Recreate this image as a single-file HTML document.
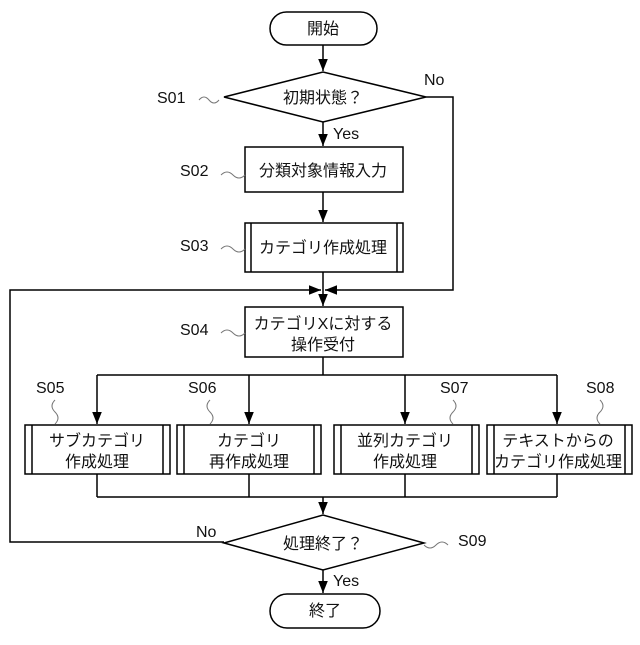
<!DOCTYPE html>
<html><head><meta charset="utf-8"><style>
html,body{margin:0;padding:0;background:#fff;}
svg text{font-family:"Liberation Sans","Noto Sans CJK JP",sans-serif;fill:#111;}
</style></head><body>
<svg width="640" height="640" viewBox="0 0 640 640" xmlns="http://www.w3.org/2000/svg">
<defs><marker id="a" viewBox="0 0 10 10" refX="10" refY="5" markerWidth="8" markerHeight="8" orient="auto"><path d="M0,1 L10,5 L0,9 z" fill="#000"/></marker></defs>
<g stroke="#000" stroke-width="1.5" fill="none">
<rect x="270" y="12" width="107" height="33" rx="16.5" fill="#fff"/>
<line x1="323" y1="45" x2="323" y2="71" marker-end="url(#a)"/>
<polygon points="224,97 323,72 426,97 323,122" fill="#fff"/>
<line x1="323" y1="122" x2="323" y2="146" marker-end="url(#a)"/>
<rect x="245" y="147" width="158" height="45" fill="#fff"/>
<line x1="323" y1="192" x2="323" y2="222" marker-end="url(#a)"/>
<rect x="245" y="223" width="158" height="49" fill="#fff"/>
<line x1="251" y1="223" x2="251" y2="272"/><line x1="397" y1="223" x2="397" y2="272"/>
<polyline points="426,97 453,97 453,290 325,290" marker-end="url(#a)"/>
<polyline points="224,542 10,542 10,290 321,290" marker-end="url(#a)"/>
<line x1="323" y1="272" x2="323" y2="306" marker-end="url(#a)"/>
<rect x="245" y="307" width="158" height="50" fill="#fff"/>
<line x1="323" y1="357" x2="323" y2="375"/>
<line x1="97" y1="375" x2="557" y2="375"/>
<line x1="97" y1="375" x2="97" y2="424" marker-end="url(#a)"/>
<line x1="249" y1="375" x2="249" y2="424" marker-end="url(#a)"/>
<line x1="405" y1="375" x2="405" y2="424" marker-end="url(#a)"/>
<line x1="557" y1="375" x2="557" y2="424" marker-end="url(#a)"/>
<rect x="25" y="425" width="145" height="49" fill="#fff"/><line x1="32" y1="425" x2="32" y2="474"/><line x1="163" y1="425" x2="163" y2="474"/>
<rect x="177" y="425" width="144" height="49" fill="#fff"/><line x1="184" y1="425" x2="184" y2="474"/><line x1="314" y1="425" x2="314" y2="474"/>
<rect x="334" y="425" width="145" height="49" fill="#fff"/><line x1="341" y1="425" x2="341" y2="474"/><line x1="472" y1="425" x2="472" y2="474"/>
<rect x="487" y="425" width="145" height="49" fill="#fff"/><line x1="494" y1="425" x2="494" y2="474"/><line x1="625" y1="425" x2="625" y2="474"/>
<line x1="97" y1="474" x2="97" y2="497"/><line x1="249" y1="474" x2="249" y2="497"/><line x1="405" y1="474" x2="405" y2="497"/><line x1="557" y1="474" x2="557" y2="497"/>
<line x1="97" y1="497" x2="557" y2="497"/>
<line x1="323" y1="497" x2="323" y2="514" marker-end="url(#a)"/>
<polygon points="224,543 323,515 424,543 323,570" fill="#fff"/>
<line x1="323" y1="570" x2="323" y2="593" marker-end="url(#a)"/>
<rect x="270" y="594" width="110" height="34" rx="17" fill="#fff"/>
</g>
<g stroke="#777" stroke-width="1" fill="none">
<path d="M199,100 q5,-6 10,0 t10,0"/>
<path d="M221,175 q6,-6 12,0 t12,0"/>
<path d="M221,249 q6,-6 12,0 t12,0"/>
<path d="M221,333 q6,-6 12,0 t12,0"/>
<path d="M55,400 q-6,6 0,12 t0,12"/>
<path d="M210,400 q-6,6 0,12 t0,12"/>
<path d="M453,400 q6,6 0,12 t0,12"/>
<path d="M600,400 q6,6 0,12 t0,12"/>
<path d="M424,545 q6,6 12,0 t12,0"/>
</g>
<g font-size="16" text-anchor="middle">
<text x="323" y="34">開始</text>
<text x="323" y="103">初期状態？</text>
<text x="323" y="176">分類対象情報入力</text>
<text x="323" y="253">カテゴリ作成処理</text>
<text x="323" y="329">カテゴリXに対する</text>
<text x="323" y="350">操作受付</text>
<text x="97" y="446">サブカテゴリ</text><text x="97" y="467">作成処理</text>
<text x="249" y="446">カテゴリ</text><text x="249" y="467">再作成処理</text>
<text x="405" y="446">並列カテゴリ</text><text x="405" y="467">作成処理</text>
<text x="558" y="446">テキストからの</text><text x="558" y="467">カテゴリ作成処理</text>
<text x="323" y="549">処理終了？</text>
<text x="325" y="616">終了</text>
</g>
<g font-size="16">
<text x="424" y="85">No</text>
<text x="333" y="139">Yes</text>
<text x="196" y="537">No</text>
<text x="333" y="586">Yes</text>
<text x="157" y="103">S01</text>
<text x="180" y="176">S02</text>
<text x="180" y="251">S03</text>
<text x="180" y="335">S04</text>
<text x="36" y="393">S05</text>
<text x="188" y="393">S06</text>
<text x="440" y="393">S07</text>
<text x="586" y="393">S08</text>
<text x="458" y="546">S09</text>
</g>
</svg>
</body></html>
